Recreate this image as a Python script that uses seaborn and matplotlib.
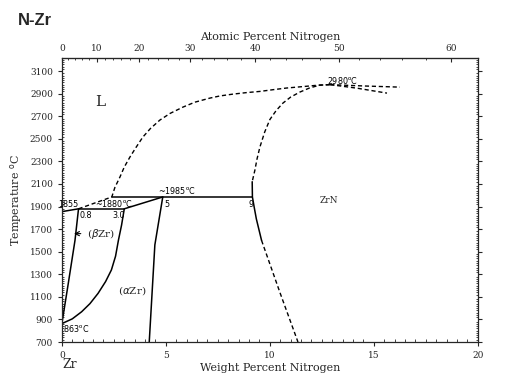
import numpy as np
import matplotlib
matplotlib.use("Agg")
import matplotlib.pyplot as plt
import seaborn as sns

liq_zr_w = [0.8, 2.4, 2.55, 2.79, 3.0, 3.27, 3.55, 3.89, 4.25, 4.71, 5.2, 5.82,
            6.4, 7.12, 7.6, 8.22, 8.9, 9.52, 10.14, 10.8, 11.78, 12.3, 12.9]
liq_zr_t = [1880, 1985, 2070, 2161, 2250, 2338, 2420, 2515, 2590, 2666, 2725, 2781,
            2825, 2861, 2880, 2896, 2910, 2920, 2935, 2950, 2966, 2975, 2980]

liq_zrn_w = [12.9, 14.57, 16.25]
liq_zrn_t = [2980, 2968, 2958]

sol_zrn_w = [12.9, 14.18, 15.63]
sol_zrn_t = [2980, 2949, 2905]

zrn_top_w = [12.9, 12.4, 11.9, 11.44, 11.0, 10.63, 10.3, 10.0, 9.75, 9.52, 9.38, 9.28, 9.2, 9.15]
zrn_top_t = [2980, 2976, 2950, 2914, 2870, 2817, 2750, 2671, 2560, 2427, 2320, 2223, 2160, 2120]

zrn_solid_w = [9.15, 9.16, 9.25, 9.35, 9.6]
zrn_solid_t = [2120, 1985, 1890, 1790, 1600]

zrn_low_w = [9.6, 10.5, 11.35]
zrn_low_t = [1600, 1130, 700]

beta_sol_w = [0.0, 0.8]
beta_sol_t = [1855, 1880]

beta_bnd_w = [0.0, 0.3, 0.63, 0.8]
beta_bnd_t = [863, 1210, 1600, 1880]

alpha_bnd_w = [0.0, 0.5, 0.95, 1.35, 1.74, 2.1, 2.38, 2.58, 2.72, 2.87, 3.0]
alpha_bnd_t = [863, 905, 968, 1040, 1131, 1235, 1338, 1460, 1603, 1736, 1880]

peri_w = [0.8, 3.0]
peri_t = [1880, 1880]

alpha_liq_w = [3.0, 4.85]
alpha_liq_t = [1880, 1985]

alpha_zrn_w = [4.2, 4.47, 4.85]
alpha_zrn_t = [700, 1560, 1985]

iso1985_w = [2.4, 9.15]
iso1985_t = [1985, 1985]

solid_curves = [
    (beta_sol_w, beta_sol_t), (beta_bnd_w, beta_bnd_t), (alpha_bnd_w, alpha_bnd_t),
    (peri_w, peri_t), (alpha_liq_w, alpha_liq_t), (alpha_zrn_w, alpha_zrn_t),
    (iso1985_w, iso1985_t), (zrn_solid_w, zrn_solid_t),
]
dashed_curves = [
    (liq_zr_w, liq_zr_t), (liq_zrn_w, liq_zrn_t), (sol_zrn_w, sol_zrn_t),
    (zrn_top_w, zrn_top_t), (zrn_low_w, zrn_low_t),
]

M_N, M_ZR = 14.007, 91.224


def wt_to_at(w):
    w = np.clip(np.asarray(w, dtype=float), 0, 100)
    n = w / M_N
    z = (100 - w) / M_ZR
    return 100 * n / (n + z)


def at_to_wt(a):
    a = np.clip(np.asarray(a, dtype=float), 0, 100)
    n = a * M_N
    z = (100 - a) * M_ZR
    return 100 * n / (n + z)


def main():
    sns.set_style("ticks")
    plt.rcParams["font.family"] = ["DejaVu Serif"]

    fig = plt.figure(figsize=(5.2, 3.75), dpi=100)
    ax = fig.add_axes([0.119, 0.088, 0.8, 0.757])

    for w, t in solid_curves:
        sns.lineplot(x=w, y=t, ax=ax, sort=False, estimator=None,
                     color="black", linewidth=1.1)
    for w, t in dashed_curves:
        sns.lineplot(x=w, y=t, ax=ax, sort=False, estimator=None,
                     color="black", linewidth=1.0, linestyle=(0, (3, 2)))

    ax.set_xlim(0, 20)
    ax.set_ylim(700, 3215)
    ax.set_xticks([0, 5, 10, 15, 20])
    ax.set_xticks(np.arange(0, 20.01, 0.5), minor=True)
    ax.set_yticks(np.arange(700, 3101, 200))
    ax.set_yticks(np.arange(700, 3201, 20), minor=True)
    ax.tick_params(axis="both", which="major", labelsize=6.5, length=3, direction="out")
    ax.tick_params(axis="y", which="minor", length=1.5, direction="in", right=True)
    ax.tick_params(axis="x", which="minor", length=2, direction="in")
    ax.tick_params(axis="y", which="major", right=True)
    for s in ax.spines.values():
        s.set_linewidth(0.9)
        s.set_visible(True)

    top = ax.secondary_xaxis("top", functions=(wt_to_at, at_to_wt))
    top.set_xticks(np.arange(0, 61, 10))
    top.set_xticks(np.arange(0, 63, 2), minor=True)
    top.tick_params(which="major", labelsize=6.5, length=3, direction="in")
    top.tick_params(which="minor", length=1.5, direction="in")
    top.set_xlabel("Atomic Percent Nitrogen", fontsize=8, labelpad=3)

    ax.set_xlabel("Weight Percent Nitrogen", fontsize=8, labelpad=2)
    ax.set_ylabel("Temperature $^{\\rm o}$C", fontsize=8, labelpad=4)

    fig.text(0.035, 0.945, "N-Zr", fontsize=12, fontweight="bold",
             family="Liberation Sans", va="center")
    fig.text(0.12, 0.027, "Zr", fontsize=9, va="center")

    sm = dict(fontsize=5.8, family="DejaVu Sans", color="black")
    ax.text(1.6, 2790, "L", fontsize=11)
    ax.text(12.4, 1930, "ZrN", fontsize=6.5)
    ax.text(2.7, 1130, "($\\alpha$Zr)", fontsize=7.5)
    ax.annotate("($\\beta$Zr)", xy=(0.45, 1660), xytext=(1.2, 1660),
                fontsize=7.5, va="center",
                arrowprops=dict(arrowstyle="->", color="black", lw=0.8))
    ax.text(-0.2, 1895, "1855", **sm)
    ax.text(0.85, 1800, "0.8", **sm)
    ax.text(1.6, 1892, "~1880$^{\\rm o}$C", **sm)
    ax.text(2.45, 1800, "3.0", **sm)
    ax.text(4.6, 2010, "~1985$^{\\rm o}$C", **sm)
    ax.text(4.95, 1900, "5", **sm)
    ax.text(8.95, 1900, "9", **sm)
    ax.text(12.75, 2990, "2980$^{\\rm o}$C", **sm)
    ax.text(0.05, 790, "863$^{\\rm o}$C", **sm)

    fig.savefig("out.png", dpi=100)


if __name__ == "__main__":
    main()
